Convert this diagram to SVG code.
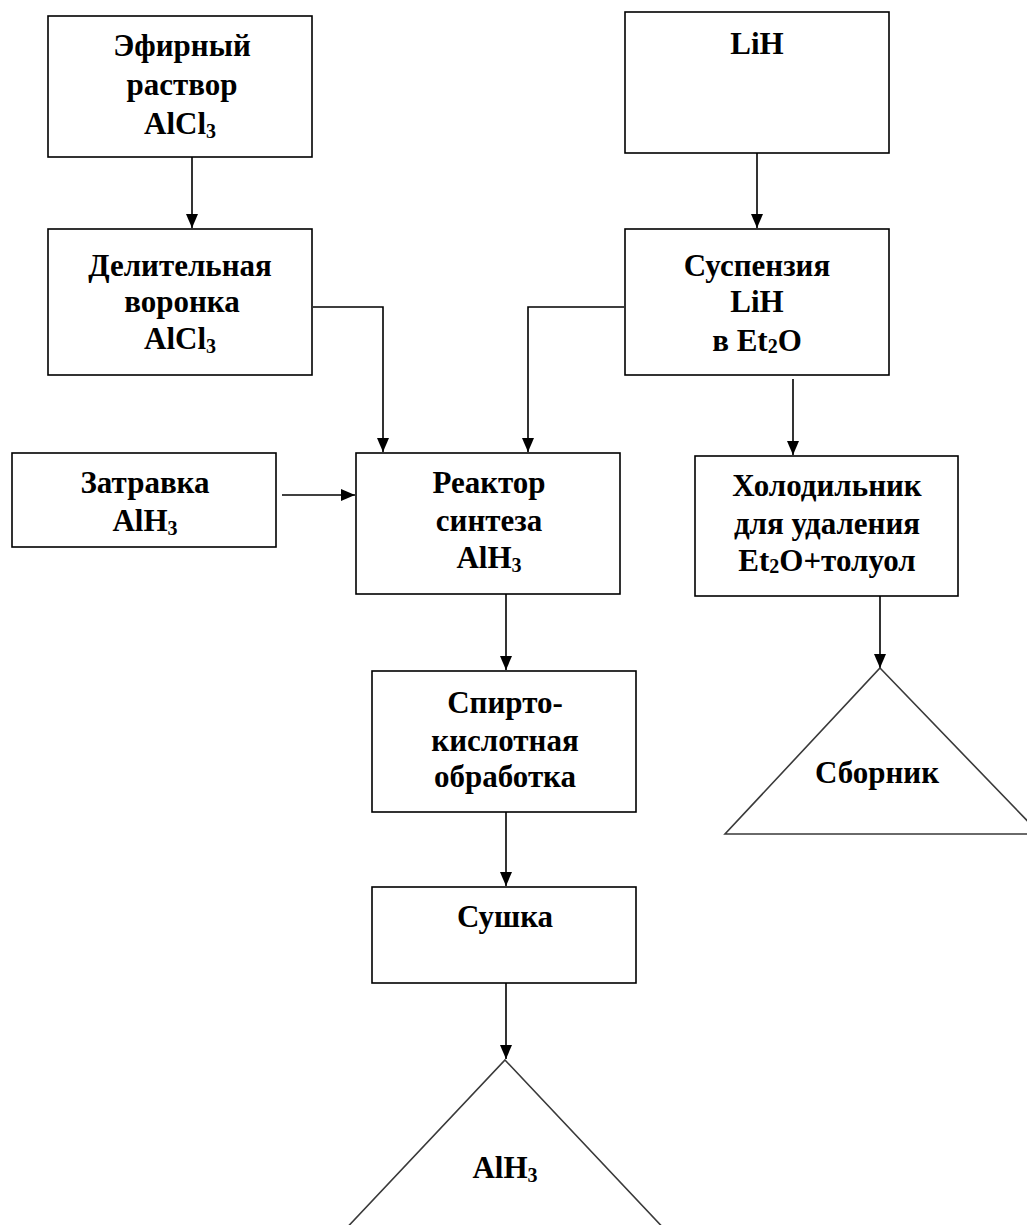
<svg xmlns="http://www.w3.org/2000/svg" width="1027" height="1225" viewBox="0 0 1027 1225">
<style>
.box{fill:#fff;stroke:#000;stroke-width:1.6}
.tri{fill:#fff;stroke:#3a3a3a;stroke-width:1.6}
.t{font-family:"Liberation Serif","Times New Roman",serif;font-weight:bold;font-size:31px;fill:#000;text-anchor:middle}
.sub{font-size:20px}
.c{fill:none;stroke:#000;stroke-width:1.6}
</style>
<defs>
<marker id="ah" viewBox="0 0 14 14" refX="14" refY="7" markerWidth="14" markerHeight="14" markerUnits="userSpaceOnUse" orient="auto">
<path d="M0,1 L14,7 L0,13 Z" fill="#000"/>
</marker>
</defs>
<g id="connectors">
<path class="c" d="M192,157 V228" marker-end="url(#ah)"/>
<path class="c" d="M757,153 V228" marker-end="url(#ah)"/>
<path class="c" d="M313,307 H383 V452" marker-end="url(#ah)"/>
<path class="c" d="M624,307 H528 V452" marker-end="url(#ah)"/>
<path class="c" d="M793,379 V455" marker-end="url(#ah)"/>
<path class="c" d="M282,495 H355" marker-end="url(#ah)"/>
<path class="c" d="M506,594 V670" marker-end="url(#ah)"/>
<path class="c" d="M506,812 V886" marker-end="url(#ah)"/>
<path class="c" d="M506,983 V1059" marker-end="url(#ah)"/>
<path class="c" d="M880,596 V668" marker-end="url(#ah)"/>
</g>
<g id="n1"><rect class="box" x="48" y="16" width="264" height="141"/>
<text class="t" x="182" y="56">Эфирный</text>
<text class="t" x="182" y="95">раствор</text>
<text class="t" x="180" y="134">AlCl<tspan class="sub" dy="4">3</tspan></text></g>
<g id="n2"><rect class="box" x="48" y="229" width="264" height="146"/>
<text class="t" x="180" y="276">Делительная</text>
<text class="t" x="182" y="312">воронка</text>
<text class="t" x="180" y="349">AlCl<tspan class="sub" dy="4">3</tspan></text></g>
<g id="n3"><rect class="box" x="625" y="12" width="264" height="141"/>
<text class="t" x="757" y="54">LiH</text></g>
<g id="n4"><rect class="box" x="625" y="229" width="264" height="146"/>
<text class="t" x="757" y="276">Суспензия</text>
<text class="t" x="757" y="312">LiH</text>
<text class="t" x="757" y="351">в Et<tspan class="sub" dy="2">2</tspan><tspan dy="-2">O</tspan></text></g>
<g id="n5"><rect class="box" x="12" y="453" width="264" height="94"/>
<text class="t" x="145" y="493">Затравка</text>
<text class="t" x="145" y="531">AlH<tspan class="sub" dy="4">3</tspan></text></g>
<g id="n6"><rect class="box" x="356" y="453" width="264" height="141"/>
<text class="t" x="489" y="493">Реактор</text>
<text class="t" x="489" y="531">синтеза</text>
<text class="t" x="489" y="568">AlH<tspan class="sub" dy="4">3</tspan></text></g>
<g id="n7"><rect class="box" x="695" y="456" width="263" height="140"/>
<text class="t" x="827" y="496">Холодильник</text>
<text class="t" x="827" y="534">для удаления</text>
<text class="t" x="827" y="571">Et<tspan class="sub" dy="2">2</tspan><tspan dy="-2">O+толуол</tspan></text></g>
<g id="n8"><rect class="box" x="372" y="671" width="264" height="141"/>
<text class="t" x="505" y="713">Спирто-</text>
<text class="t" x="505" y="751">кислотная</text>
<text class="t" x="505" y="787">обработка</text></g>
<g id="n9"><rect class="box" x="372" y="887" width="264" height="96"/>
<text class="t" x="505" y="927">Сушка</text></g>
<g id="n10"><path class="tri" d="M880,668 L1040,834 L725,834 Z"/>
<text class="t" x="877" y="783">Сборник</text></g>
<g id="n11"><path class="tri" d="M505,1060 L670,1235 L340,1235 Z"/>
<text class="t" x="505" y="1178">AlH<tspan class="sub" dy="4">3</tspan></text></g>
</svg>
